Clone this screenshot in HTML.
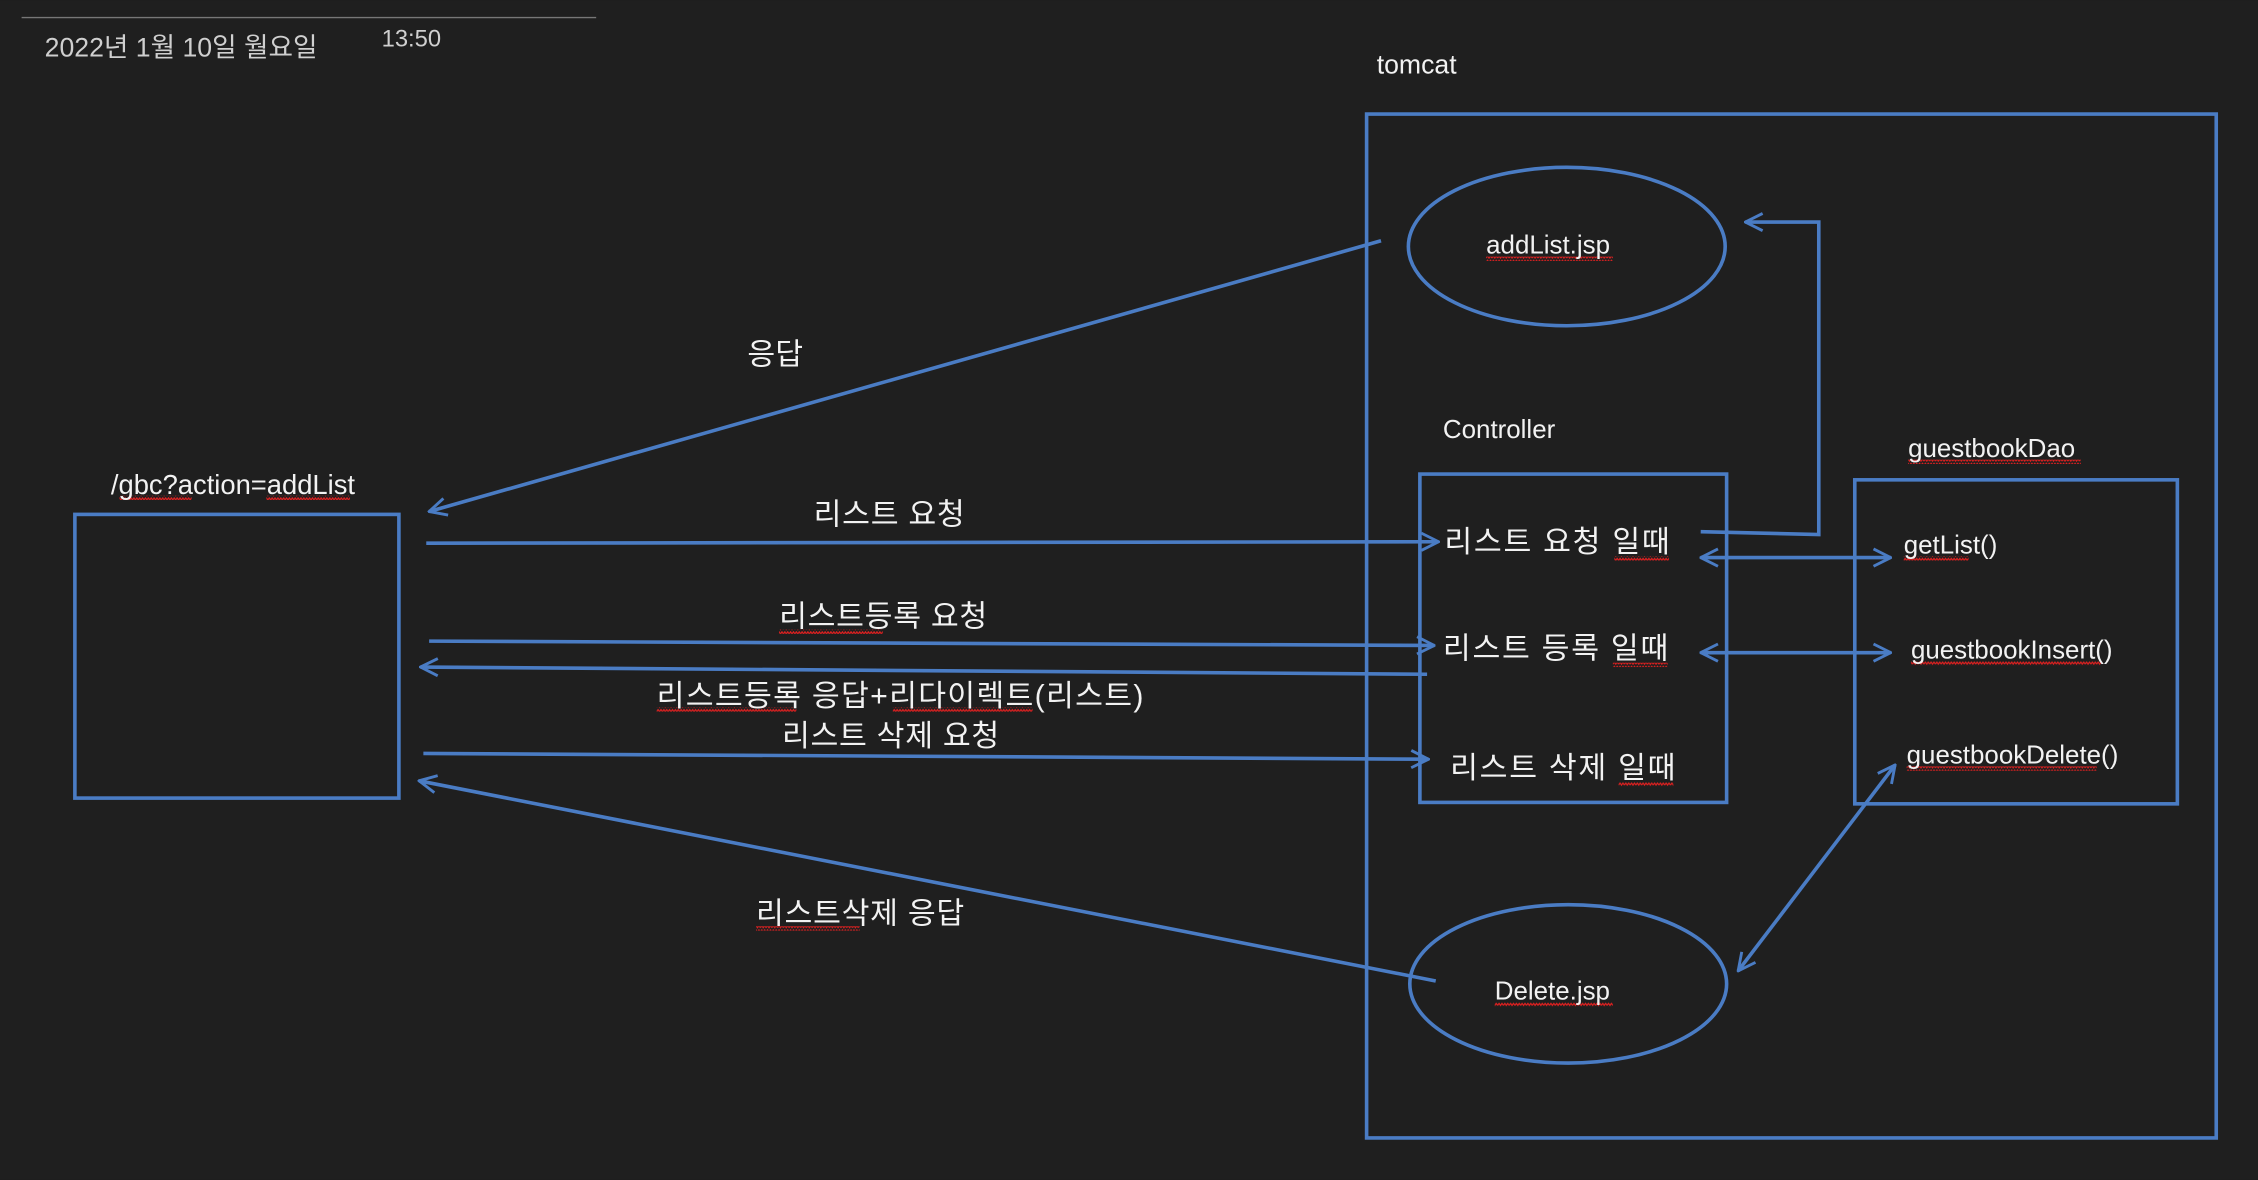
<!DOCTYPE html>
<html><head><meta charset="utf-8"><style>
html,body{margin:0;padding:0;background:#1f1f1f;}
svg{display:block;}
text{font-family:"Liberation Sans","Noto Sans CJK KR",sans-serif;fill:#f2f2f2;}
</style></head><body>
<svg width="2258" height="1180" viewBox="0 0 1568 819" xmlns="http://www.w3.org/2000/svg">
<defs>
<marker id="a" viewBox="0 0 14 14" refX="13" refY="7" markerWidth="14" markerHeight="14" markerUnits="userSpaceOnUse" orient="auto-start-reverse">
<path d="M1,1 L13,7 L1,13" fill="none" stroke="#4a7cc4" stroke-width="2"/>
</marker>
<pattern id="sq" width="4" height="3" patternUnits="userSpaceOnUse">
<path d="M0,2 L1,0.5 L2,2 L3,0.5 L4,2" fill="none" stroke="#e02020" stroke-width="0.8"/>
</pattern>
</defs>
<rect width="1568" height="819" fill="#1f1f1f"/>
<line x1="15" y1="12" x2="414" y2="12" stroke="#777" stroke-width="1"/>
<text x="31" y="39" font-size="18.5" style="fill:#cfcfcf">2022년 1월 10일 월요일</text>
<text x="265" y="32" font-size="16.5" style="fill:#cfcfcf">13:50</text>

<g fill="none" stroke="#4a7cc4" stroke-width="2.5">
<rect x="949" y="79" width="590" height="711"/>
<ellipse cx="1088" cy="171" rx="110" ry="55"/>
<ellipse cx="1089" cy="683" rx="110" ry="55"/>
<rect x="986" y="329" width="213" height="228"/>
<rect x="1288" y="333" width="224" height="225"/>
<rect x="52" y="357" width="225" height="197"/>

<line x1="959" y1="167" x2="298" y2="355" marker-end="url(#a)"/>
<line x1="296" y1="377" x2="999" y2="376" marker-end="url(#a)"/>
<line x1="298" y1="445" x2="996" y2="448" marker-end="url(#a)"/>
<line x1="991" y1="468" x2="292" y2="463" marker-end="url(#a)"/>
<line x1="294" y1="523" x2="992" y2="527" marker-end="url(#a)"/>
<line x1="997" y1="681" x2="291" y2="542" marker-end="url(#a)"/>
<polyline points="1181,369 1263,371 1263,154 1212,154" marker-end="url(#a)"/>
<line x1="1181" y1="387" x2="1313" y2="387" marker-start="url(#a)" marker-end="url(#a)"/>
<line x1="1181" y1="453" x2="1313" y2="453" marker-start="url(#a)" marker-end="url(#a)"/>
<line x1="1207" y1="674" x2="1316" y2="531" marker-start="url(#a)" marker-end="url(#a)"/>
</g>

<g fill="url(#sq)">
<rect x="1032" y="178" width="88" height="3"/>
<rect x="1038" y="696" width="82" height="3"/>
<rect x="1325" y="319" width="120" height="3"/>
<rect x="83" y="344" width="50" height="3"/>
<rect x="185" y="344" width="58" height="3"/>
<rect x="1121" y="386" width="38" height="3"/>
<rect x="1120" y="460" width="38" height="3"/>
<rect x="1124" y="543" width="38" height="3"/>
<rect x="1322" y="386" width="45" height="3"/>
<rect x="1327" y="459" width="132" height="3"/>
<rect x="1324" y="532" width="132" height="3"/>
<rect x="541" y="437" width="72" height="3"/>
<rect x="456" y="491" width="97" height="3"/>
<rect x="620" y="491" width="97" height="3"/>
<rect x="525" y="643" width="72" height="3"/>
</g>

<text x="956" y="51" font-size="18.5">tomcat</text>
<text x="1032" y="176" font-size="18">addList.jsp</text>
<text x="1002" y="304" font-size="18">Controller</text>
<text x="1325" y="317" font-size="18">guestbookDao</text>
<text x="1038" y="694" font-size="18">Delete.jsp</text>
<text x="77" y="343" font-size="19">/gbc?action=addList</text>

<text x="519" y="253" font-size="21">응답</text>
<text x="565" y="364" font-size="21" letter-spacing="0.5">리스트 요청</text>
<text x="541" y="435" font-size="21" letter-spacing="0.5">리스트등록 요청</text>
<text x="456" y="490" font-size="21" letter-spacing="0.9">리스트등록 응답+리다이렉트(리스트)</text>
<text x="543" y="518" font-size="21" letter-spacing="0.5">리스트 삭제 요청</text>
<text x="525" y="641" font-size="21" letter-spacing="0.5">리스트삭제 응답</text>

<text x="1003" y="383" font-size="21" letter-spacing="1.2">리스트 요청 일때</text>
<text x="1002" y="457" font-size="21" letter-spacing="1.2">리스트 등록 일때</text>
<text x="1007" y="540" font-size="21" letter-spacing="1.2">리스트 삭제 일때</text>
<text x="1322" y="384" font-size="18">getList()</text>
<text x="1327" y="457" font-size="18">guestbookInsert()</text>
<text x="1324" y="530" font-size="18">guestbookDelete()</text>
</svg>
</body></html>
